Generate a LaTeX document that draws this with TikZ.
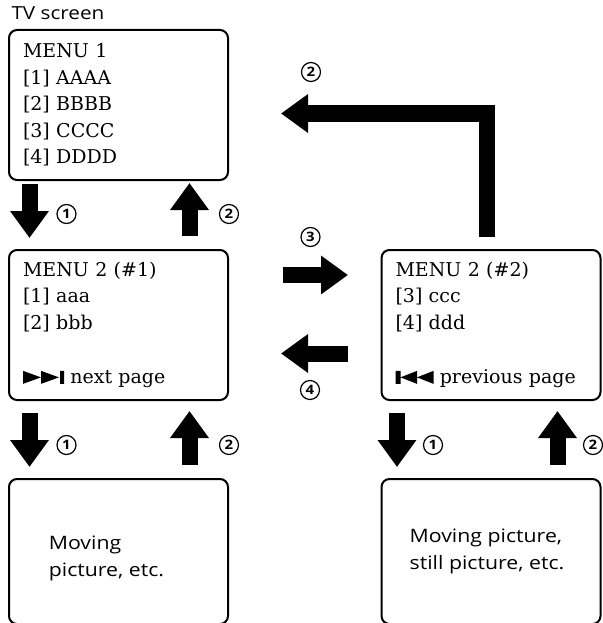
\documentclass[tikz,border=0pt]{standalone}
\usepackage{fontspec}
\setmainfont{DejaVu Serif}
\newfontfamily\labelfont[FakeStretch=1.15]{Open Sans}
\usepackage{tikz}
\usetikzlibrary{arrows.meta, positioning, calc}

\newcommand{\nextmark}{\tikz[baseline=0pt,x=1pt,y=1pt,sharp corners]\fill (0,0) -- (18,6.5) -- (0,13) -- cycle (18,0) -- (36,6.5) -- (18,13) -- cycle (37,0) rectangle (41,13);}
\newcommand{\prevmark}{\tikz[baseline=0pt,x=1pt,y=1pt,sharp corners]\fill (0,0) rectangle (5,13) (21.5,0) -- (5,6.5) -- (21.5,13) -- cycle (38,0) -- (21.5,6.5) -- (38,13) -- cycle;}

\begin{document}
\begin{tikzpicture}[
  screen/.style={draw, line width=2pt, rounded corners=8pt, minimum height=150pt, inner xsep=14pt, text width=191pt, align=left, font=\fontsize{19}{26.5}\selectfont},
  picbox/.style={draw, line width=2pt, rounded corners=8pt, minimum width=219pt, minimum height=145pt},
  pictext/.style={align=left, font=\labelfont\fontsize{18.5}{26.5}\selectfont},
  bigarrow/.style={line width=16pt, -{Triangle[length=27pt,width=37pt]}},
  num/.style={circle, draw, line width=1.2pt, minimum size=19pt, inner sep=0pt, font=\labelfont\bfseries\fontsize{13}{13}\selectfont}
]
  \useasboundingbox (0,0) rectangle (602pt,-623pt);

  % screens
  \node[screen] (m1) at (118.5pt,-105pt) {MENU 1\\{}[1] AAAA\\{}[2] BBBB\\{}[3] CCCC\\{}[4] DDDD};
  \node[screen, below=68pt of m1] (m2a) {MENU 2 (\#1)\\{}[1] aaa\\{}[2] bbb\\[28pt]\nextmark\ next page};
  \node[screen, right=151.5pt of m2a] (m2b) {MENU 2 (\#2)\\{}[3] ccc\\{}[4] ddd\\[28pt]\prevmark\ previous page};
  \node[picbox, below=77pt of m2a] (pic1) {};
  \node[picbox, below=77pt of m2b] (pic2) {};
  \node[pictext] (pic1txt) at ([shift={(-12pt,-7pt)}]pic1.center) {Moving\\picture, etc.};
  \node[pictext] (pic2txt) at ([xshift=-4pt]pic2.center) {Moving picture,\\still picture, etc.};
  \node[anchor=base west, font=\labelfont\fontsize{18}{22}\selectfont] (title) at ([shift={(0pt,9pt)}]m1.north west) {TV screen};

  % up and down
  \draw[bigarrow] ([xshift=21.5pt,yshift=-3pt]m1.south west) -- node[num, xshift=37pt, yshift=-3pt] {1} ([xshift=21.5pt,yshift=11pt]m2a.north west);
  \draw[bigarrow] ([xshift=-39.5pt,yshift=13pt]m2a.north east) -- node[num, xshift=39.5pt, yshift=-4.5pt] {2} ([xshift=-39.5pt,yshift=-2pt]m1.south east);
  \draw[bigarrow] ([xshift=21.5pt,yshift=-12pt]m2a.south west) -- node[num, xshift=37pt, yshift=-5pt] {1} ([xshift=21.5pt,yshift=11pt]pic1.north west);
  \draw[bigarrow] ([xshift=-39.5pt,yshift=13pt]pic1.north east) -- node[num, xshift=39.5pt, yshift=-7pt] {2} ([xshift=-39.5pt,yshift=-10pt]m2a.south east);
  \draw[bigarrow] ([xshift=16.5pt,yshift=-12pt]m2b.south west) -- node[num, xshift=36pt, yshift=-5pt] {1} ([xshift=16.5pt,yshift=11pt]pic2.north west);
  \draw[bigarrow] ([xshift=-44pt,yshift=13pt]pic2.north east) -- node[num, xshift=35.5pt, yshift=-7pt] {2} ([xshift=-44pt,yshift=-10pt]m2b.south east);

  % page turning
  \draw[bigarrow] ([xshift=54pt,yshift=50pt]m2a.east) -- node[num, xshift=-5pt, yshift=38pt] {3} ([xshift=-32.5pt,yshift=50pt]m2b.west);
  \draw[bigarrow] ([xshift=-32.5pt,yshift=-28.5pt]m2b.west) -- node[num, xshift=-4.5pt, yshift=-36.5pt] {4} ([xshift=52pt,yshift=-28.5pt]m2a.east);

  % back to menu 1
  \coordinate (Lbottom) at ([xshift=-4.5pt,yshift=12pt]m2b.north);
  \coordinate (Ltip) at ([xshift=52pt,yshift=-8.5pt]m1.east);
  \draw[bigarrow, line join=miter] (Lbottom) |- (Ltip);
  \node[num] (n2top) at ([shift={(30pt,41.5pt)}]Ltip) {2};
\end{tikzpicture}
\end{document}
